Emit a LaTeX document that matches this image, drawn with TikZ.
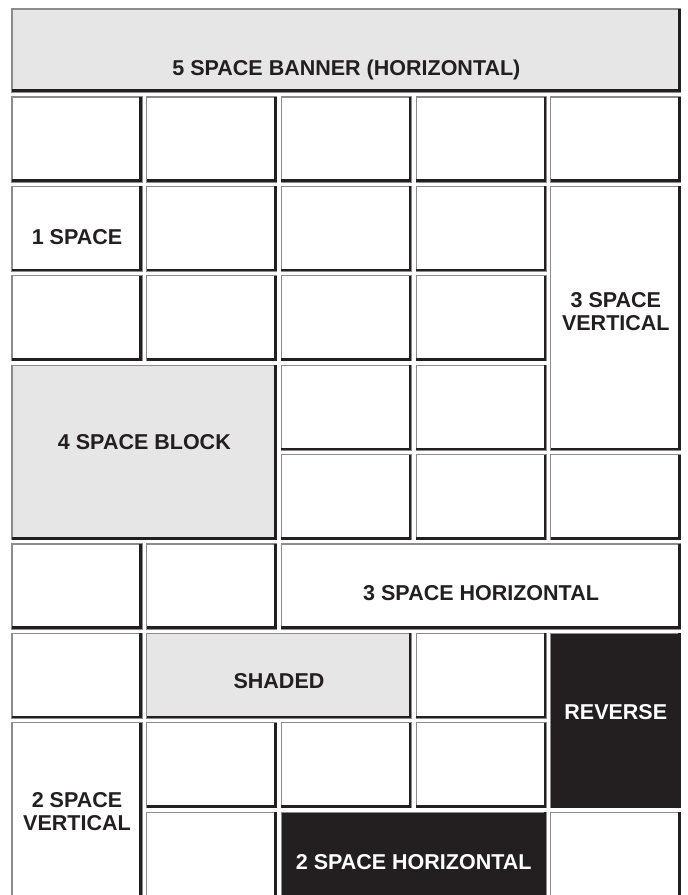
\documentclass[tikz,border=0pt]{standalone}
\usepackage{fontspec}
\setmainfont{Liberation Sans}
\definecolor{ink}{HTML}{231F20}
\definecolor{shade}{HTML}{E6E6E6}
\definecolor{rim}{HTML}{8C8C8C}
\tikzset{
  cell/.style={draw=rim, line width=1.1pt, fill=white, inner sep=0pt, outer sep=0pt},
  grayfill/.style={fill=shade},
  blackfill/.style={fill=ink},
  edge/.style={draw=ink, line width=2.6pt},
  lbl/.style={font=\fontsize{21.5}{23}\selectfont\bfseries, text=ink, align=center, inner sep=0pt},
  rlbl/.style={lbl, text=white},
}
\newcommand\cellbox[6]{%
  \pgfmathsetmacro\cx{12+134.7*(#2-1)}%
  \pgfmathsetmacro\cy{97+89.4*(#3-1)}%
  \pgfmathsetmacro\cw{130+134.7*(#4-1)}%
  \pgfmathsetmacro\ch{85+89.4*(#5-1)}%
  \node[cell,#6,minimum width=\cw pt,minimum height=\ch pt,anchor=north west] (#1) at (\cx,\cy) {};
  \draw[edge] ([xshift=-1.3pt]#1.north east) -- ([shift={(-1.3pt,1.3pt)}]#1.south east) -- ([yshift=1.3pt]#1.south west);
}
\begin{document}
\begin{tikzpicture}[x=1pt,y=-1pt]
\clip (0,0) rectangle (688,895);
\fill[white] (0,0) rectangle (688,895);
% banner
\node[cell,grayfill,minimum width=668.8pt,minimum height=83pt,anchor=north west] (banner) at (12,9) {};
\draw[edge] ([xshift=-1.3pt]banner.north east) -- ([shift={(-1.3pt,1.3pt)}]banner.south east) -- ([yshift=1.3pt]banner.south west);
% row 1
\cellbox{r1c1}{1}{1}{1}{1}{}
\cellbox{r1c2}{2}{1}{1}{1}{}
\cellbox{r1c3}{3}{1}{1}{1}{}
\cellbox{r1c4}{4}{1}{1}{1}{}
\cellbox{r1c5}{5}{1}{1}{1}{}
% row 2
\cellbox{onesp}{1}{2}{1}{1}{}
\cellbox{r2c2}{2}{2}{1}{1}{}
\cellbox{r2c3}{3}{2}{1}{1}{}
\cellbox{r2c4}{4}{2}{1}{1}{}
\cellbox{threev}{5}{2}{1}{3}{}
% row 3
\cellbox{r3c1}{1}{3}{1}{1}{}
\cellbox{r3c2}{2}{3}{1}{1}{}
\cellbox{r3c3}{3}{3}{1}{1}{}
\cellbox{r3c4}{4}{3}{1}{1}{}
% row 4-5
\cellbox{fourblk}{1}{4}{2}{2}{grayfill}
\cellbox{r4c3}{3}{4}{1}{1}{}
\cellbox{r4c4}{4}{4}{1}{1}{}
\cellbox{r5c3}{3}{5}{1}{1}{}
\cellbox{r5c4}{4}{5}{1}{1}{}
\cellbox{r5c5}{5}{5}{1}{1}{}
% row 6
\cellbox{r6c1}{1}{6}{1}{1}{}
\cellbox{r6c2}{2}{6}{1}{1}{}
\cellbox{threeh}{3}{6}{3}{1}{}
% row 7
\cellbox{r7c1}{1}{7}{1}{1}{}
\cellbox{shaded}{2}{7}{2}{1}{grayfill}
\cellbox{r7c4}{4}{7}{1}{1}{}
\cellbox{reverse}{5}{7}{1}{2}{blackfill}
% row 8
\cellbox{twov}{1}{8}{1}{2}{}
\cellbox{r8c2}{2}{8}{1}{1}{}
\cellbox{r8c3}{3}{8}{1}{1}{}
\cellbox{r8c4}{4}{8}{1}{1}{}
% row 9
\cellbox{r9c2}{2}{9}{1}{1}{}
\cellbox{twoh}{3}{9}{2}{1}{blackfill}
\cellbox{r9c5}{5}{9}{1}{1}{}
% labels
\node[lbl] (tbanner) at (346.4,70) {5 SPACE BANNER (HORIZONTAL)};
\node[lbl] (tone) at (77,237) {1 SPACE};
\node[lbl] (tthreev) at (615.8,312) {3 SPACE\\VERTICAL};
\node[lbl] (tfour) at (144.4,442) {4 SPACE BLOCK};
\node[lbl] (tthreeh) at (481.1,593) {3 SPACE HORIZONTAL};
\node[lbl] (tshaded) at (279,681) {SHADED};
\node[rlbl] (trev) at (615.8,712) {REVERSE};
\node[lbl] (ttwov) at (77,812) {2 SPACE\\VERTICAL};
\node[rlbl] (ttwoh) at (413.7,862) {2 SPACE HORIZONTAL};
\end{tikzpicture}
\end{document}
